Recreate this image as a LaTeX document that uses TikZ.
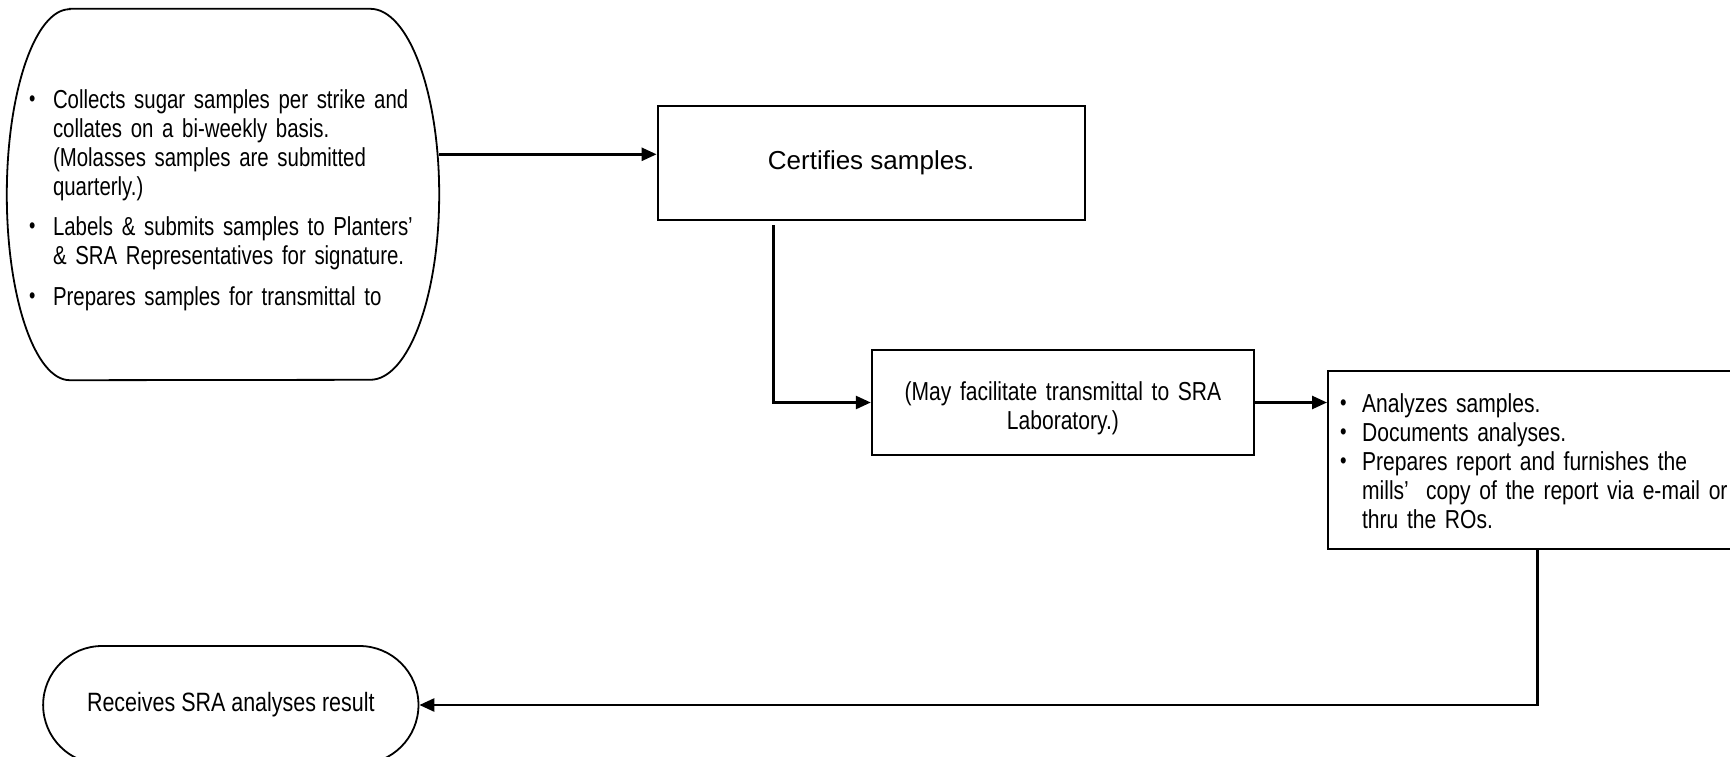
\documentclass[tikz,border=0pt]{standalone}
\usepackage{fontspec}
\setmainfont{Liberation Sans}
\newfontfamily\narrowsf{Liberation Sans}[FakeStretch=0.81]
\newfontfamily\tightsf{Liberation Sans}[FakeStretch=0.785]
\usetikzlibrary{arrows.meta, positioning, shapes.misc}

\newcommand{\bul}[1][24pt]{\makebox[#1][l]{\raisebox{2pt}{\fontsize{23}{23}\selectfont\textbullet}}}

\begin{document}
\begin{tikzpicture}[x=1pt, y=1pt,
  box/.style={draw, line width=2.2pt, inner sep=0pt},
  link/.style={line width=2.6pt, -{Triangle[length=15pt, width=13pt]}},
  narrow/.style={font=\narrowsf\fontsize{26}{29}\selectfont}]
\useasboundingbox (0,0) rectangle (1730,-757);

\node[font=\tightsf\fontsize{26}{29}\selectfont, text width=388pt, minimum width=432pt, minimum height=371pt, inner sep=0pt, align=left] (collect) at (223,-194.5) {
  \vspace*{12pt}\par\noindent
  \begin{tabular}{@{}l@{}l@{}}
  \bul & Collects sugar samples per strike and\\
       & collates on a bi-weekly basis.\\
       & (Molasses samples are submitted\\
       & quarterly.)\\[11pt]
  \bul & Labels \& submits samples to Planters’\\
       & \& SRA Representatives for signature.\\[12pt]
  \bul & Prepares samples for transmittal to
  \end{tabular}
};
\draw[line width=1.8pt] ([xshift=63pt]collect.north west) -- ([xshift=-69pt]collect.north east)
  arc[start angle=90, end angle=-90, x radius=69pt, y radius=185.5pt]
  -- ([xshift=63pt]collect.south west)
  arc[start angle=270, end angle=90, x radius=63pt, y radius=185.5pt] -- cycle;

\node[box, minimum width=427pt, minimum height=114pt, font=\fontsize{26}{29}\selectfont] (certify) at (871.2,-163) {Certifies samples.};

\node[box, narrow, minimum width=382pt, minimum height=105pt, text width=360pt, align=center] (relay) at (1062.9,-402.5) {
  \vspace*{1pt}\par
  (May facilitate transmittal to SRA\\ Laboratory.)};

\node[box, narrow, anchor=north west, minimum width=450pt, minimum height=177.5pt, text width=426pt, inner xsep=12pt, align=left] (analyze) at (1327,-370) {
  \vspace*{9pt}\par\noindent
  \begin{tabular}{@{}l@{}l@{}}
  \bul[22pt] & Analyzes samples.\\
  \bul[22pt] & Documents analyses.\\
  \bul[22pt] & Prepares report and furnishes the\\
             & mills’~ copy of the report via e-mail or\\
             & thru the ROs.
  \end{tabular}
};

\node[rounded rectangle, draw, line width=1.8pt, font=\narrowsf\fontsize{26.5}{29}\selectfont, minimum width=382pt, minimum height=118pt] (receive) at (230.8,-705) {Receives SRA analyses result};

\coordinate (certin) at ([yshift=8.7pt]certify.west);
\draw[link] (collect.east |- certin) -- (certin);
\draw[link] ([xshift=117pt, yshift=-4pt]certify.south west) |- (relay.west);
\draw[link] (relay.east) -- (relay.east -| analyze.west);
\draw[link] ([xshift=210.3pt]analyze.south west) |- (receive.east);
\end{tikzpicture}
\end{document}
